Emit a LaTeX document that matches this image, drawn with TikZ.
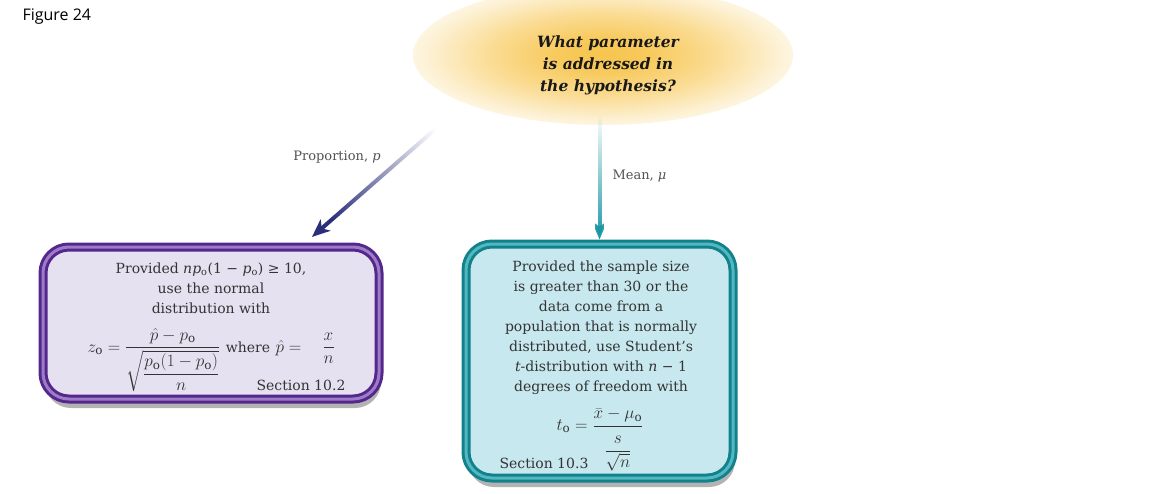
\documentclass[tikz,border=0pt]{standalone}
\usepackage{amsmath,amssymb}
\usepackage{fontspec}
\setmainfont{DejaVu Serif}
\setsansfont{Open Sans}
\usetikzlibrary{shapes.geometric,arrows.meta,shadows,fadings,calc}
\definecolor{glowc}{HTML}{F7C54E}
\definecolor{navyc}{HTML}{2B2F7A}
\definecolor{tealc}{HTML}{1795A3}
\definecolor{purpdark}{HTML}{55278A}
\definecolor{purplight}{HTML}{9A7CC8}
\definecolor{purpfill}{HTML}{E6E1F0}
\definecolor{tealdark}{HTML}{13818B}
\definecolor{teallight}{HTML}{52B8C0}
\definecolor{tealfill}{HTML}{C7E8EE}
\definecolor{txt}{HTML}{333333}
\pgfdeclareradialshading{glowsh}{\pgfpoint{0bp}{0bp}}{color(0bp)=(glowc); color(6bp)=(glowc!92!white); color(15bp)=(glowc!60!white); color(24bp)=(glowc!20!white); color(32bp)=(white); color(50bp)=(white)}
\tikzfading[name=fadeA, top color=transparent!100, middle color=transparent!25, bottom color=transparent!0]
\newcommand{\sbo}{\textsubscript{o}}
\tikzset{
  boxtext/.style={align=center, text=txt, font=\fontsize{14}{20}\selectfont},
  mathtext/.style={text=txt, font=\fontsize{17}{20}\selectfont},
  lbl/.style={text=txt!85!white, font=\fontsize{13}{16}\selectfont},
  arr/.style={line width=4pt, -{Stealth[length=18pt, width=15pt, inset=5pt]}},
  lboxst/.style={rectangle, rounded corners=26pt, minimum width=336pt, minimum height=152pt,
    fill=purpfill, draw=purpdark, line width=9pt,
    drop shadow={shadow xshift=2pt, shadow yshift=-9pt, opacity=0.4, fill=black!75},
    postaction={draw=purplight, line width=3pt}},
  rboxst/.style={rectangle, rounded corners=26pt, minimum width=267pt, minimum height=234pt,
    fill=tealfill, draw=tealdark, line width=9pt,
    drop shadow={shadow xshift=2pt, shadow yshift=-9pt, opacity=0.4, fill=black!75},
    postaction={draw=teallight, line width=3pt}}
}
\begin{document}
\begin{tikzpicture}[x=1pt,y=-1pt]
\useasboundingbox (0,0) rectangle (1159,493);
\node[anchor=west, font=\sffamily\fontsize{16}{18}\selectfont, text=black] (fig) at (19,17) {Figure 24};
% glow
\node[ellipse, shade, shading=glowsh, minimum width=380pt, minimum height=140pt, inner sep=0pt] (q) at (603,55) {};
\node[align=center, text=black!90, font=\bfseries\itshape\fontsize{15.5}{22}\selectfont] (qt) at (608,65) {What parameter\\is addressed in\\the hypothesis?};
% boxes
\node[lboxst] (lb) at (211,323) {};
\node[rboxst] (rb) at (599.5,361) {};
% arrows
\coordinate (ps) at (455,112);
\coordinate (pe) at (312,237);
\draw[arr, navyc, path fading=fadeA, fading angle=-49] (ps) -- (pe);
\draw[arr, tealc, path fading=fadeA] (rb.north |- 0,116) -- (rb.north);
\node[lbl] (lp) at (337,157) {Proportion, \textit{p}};
\node[lbl, anchor=west] (lm) at (609,176) {Mean, \textit{μ}};
% left box text
\node[boxtext] (lt) at (211,288) {Provided \textit{np}\sbo(1 − \textit{p}\sbo) ≥ 10,\\use the normal\\distribution with};
\node[mathtext, anchor=west] (lf) at (84,360) {$\displaystyle z_{\mathrm{o}}=\frac{\hat p-p_{\mathrm{o}}}{\sqrt{\dfrac{p_{\mathrm{o}}(1-p_{\mathrm{o}})}{n}}}$\ {\fontsize{14}{20}\selectfont where} $\hat p =\ \ \ \dfrac{x}{n}$};
\node[boxtext, anchor=west] (ls) at (253,385) {Section 10.2};
% right box text
\node[boxtext] (rt) at (601,328) {Provided the sample size\\is greater than 30 or the\\data come from a\\population that is normally\\distributed, use Student's\\\textit{t}-distribution with \textit{n} − 1\\degrees of freedom with};
\node[mathtext] (rf) at (600,440) {$\displaystyle t_{\mathrm{o}}=\frac{\bar x-\mu_{\mathrm{o}}}{\rule{0pt}{27pt}\dfrac{s}{\sqrt{n}}}$};
\node[boxtext, anchor=west] (rs) at (496,463) {Section 10.3};
\end{tikzpicture}
\end{document}
